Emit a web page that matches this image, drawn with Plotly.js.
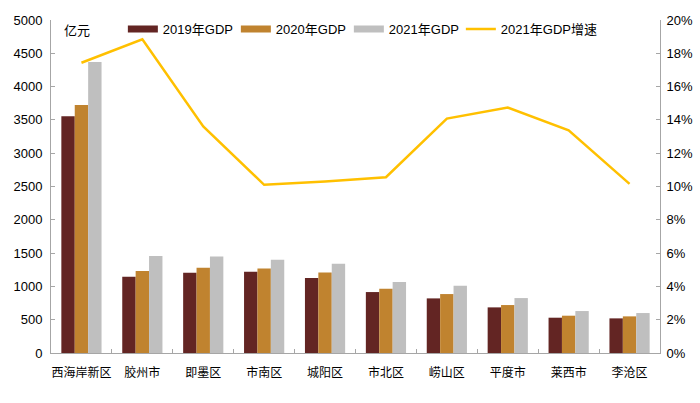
<!DOCTYPE html>
<html>
<head>
<meta charset="utf-8">
<script src="https://cdn.plot.ly/plotly-3.0.1.min.js"></script>
<style>html,body{margin:0;padding:0;background:#fff}#chart{width:700px;height:403px}</style>
</head>
<body>
<div id="chart"></div>
<script>
const categories = ['西海岸新区','胶州市','即墨区','市南区','城阳区','市北区','崂山区','平度市','莱西市','李沧区'];
const gdp2019 = [3554, 1145, 1205, 1220, 1125, 915, 820, 685, 530, 520];
const gdp2020 = [3722, 1230, 1280, 1270, 1210, 965, 885, 720, 560, 550];
const gdp2021 = [4371, 1455, 1450, 1400, 1340, 1065, 1010, 825, 630, 600];
const growth2021 = [0.1743, 0.1884, 0.1361, 0.1010, 0.1030, 0.1056, 0.1408, 0.1474, 0.1337, 0.1016];
const seriesNames = ['2019年GDP','2020年GDP','2021年GDP','2021年GDP增速'];
const colors = ['#632523','#C0832F','#BFBFBF','#FFC000'];

const FONT = '"Liberation Sans", Arial, "Noto Sans CJK SC", sans-serif';
const CJK = '"Noto Sans CJK SC", "Liberation Sans", sans-serif';

const barData = [gdp2019, gdp2020, gdp2021];
const traces = [];
barData.forEach((vals, i) => {
  traces.push({type:'bar', x:categories, y:vals, name:seriesNames[i], marker:{color:colors[i]}, showlegend:false, hoverinfo:'y'});
});
traces.push({type:'scatter', mode:'lines', x:categories, y:growth2021, name:seriesNames[3], yaxis:'y2', line:{color:colors[3], width:2.5}, showlegend:false});
// legend entries (wide swatches)
barData.forEach((vals, i) => {
  traces.push({type:'scatter', mode:'lines', x:[null], y:[null], name:seriesNames[i], line:{color:colors[i], width:7}, showlegend:true, legend:'legend'});
});
traces.push({type:'scatter', mode:'lines', x:[null], y:[null], name:seriesNames[3], yaxis:'y2', line:{color:colors[3], width:2.5}, showlegend:true, legend:'legend2'});

const legendCommon = {orientation:'h', xanchor:'left', y:1.018, yanchor:'top', font:{family:FONT, size:13}, itemwidth:30, bgcolor:'rgba(0,0,0,0)', tracegroupgap:0};

const layout = {
  width:700, height:403,
  margin:{l:51, r:40, t:20, b:50},
  paper_bgcolor:'#fff', plot_bgcolor:'#fff',
  font:{family:FONT, size:13, color:'#000'},
  barmode:'group', bargap:0.34, bargroupgap:0,
  showlegend:true,
  legend:Object.assign({}, legendCommon, {x:0.118, entrywidth:68, entrywidthmode:'pixels'}),
  legend2:Object.assign({}, legendCommon, {x:0.673}),
  xaxis:{type:'category', showline:true, linecolor:'#A6A6A6', linewidth:1, ticks:'inside', ticklen:4, tickcolor:'#A6A6A6', tickson:'boundaries', tickangle:0, ticklabelstandoff:9, tickfont:{family:CJK, size:12}, showgrid:false, zeroline:false, fixedrange:true},
  yaxis:{range:[0,5000], dtick:500, tick0:0, showline:true, linecolor:'#A6A6A6', linewidth:1, ticks:'inside', ticklen:4, tickcolor:'#A6A6A6', ticklabelstandoff:5, showgrid:false, zeroline:false, tickfont:{family:FONT, size:13}},
  yaxis2:{overlaying:'y', side:'right', range:[0,0.2], dtick:0.02, tickformat:'.0%', showline:true, linecolor:'#A6A6A6', linewidth:1, ticks:'inside', ticklen:4, tickcolor:'#A6A6A6', ticklabelstandoff:3, showgrid:false, zeroline:false, tickfont:{family:FONT, size:13}},
  annotations:[{text:'亿元', xref:'paper', yref:'paper', x:0.043, y:0.97, xanchor:'center', yanchor:'middle', showarrow:false, font:{family:CJK, size:13}}]
};
Plotly.newPlot('chart', traces, layout, {staticPlot:true});
</script>
</body>
</html>
